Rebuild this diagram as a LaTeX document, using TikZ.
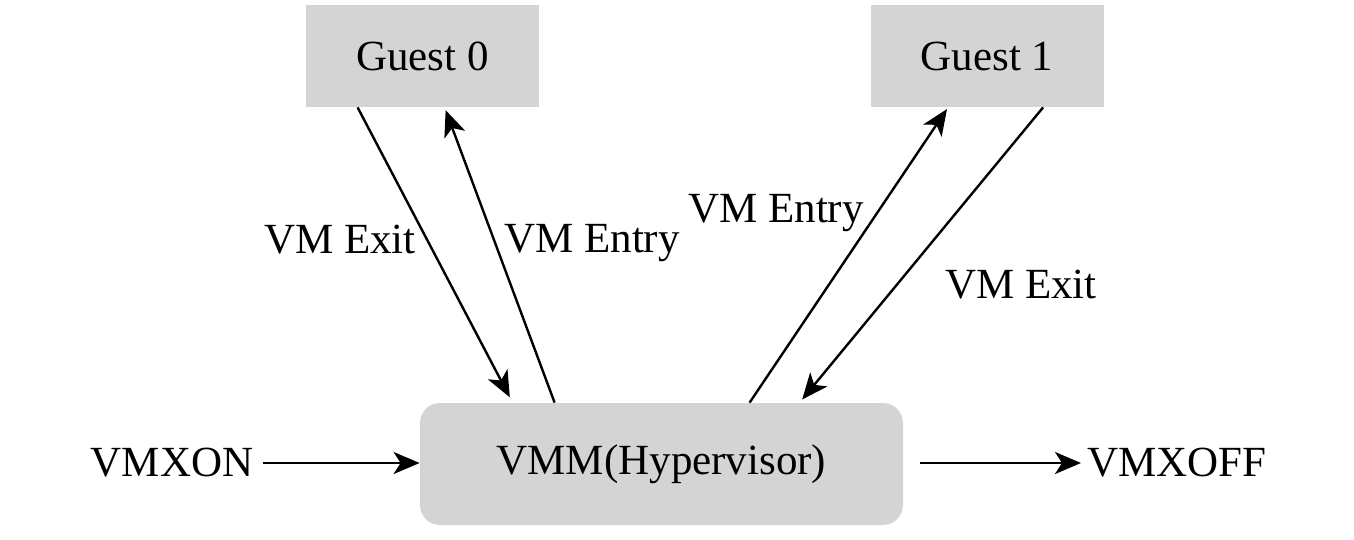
\documentclass[tikz,border=0pt]{standalone}
\usepackage{fontspec}
\setmainfont{Liberation Serif}
\usetikzlibrary{arrows.meta}
\definecolor{boxgray}{RGB}{212,212,212}

\begin{document}
\begin{tikzpicture}[x=0.5pt,y=-0.5pt,
    every node/.style={font=\fontsize{21.5pt}{25pt}\selectfont},
    guestbox/.style={fill=boxgray,minimum width=116.5pt,minimum height=51pt,inner sep=0pt},
    vmmbox/.style={fill=boxgray,rounded corners=10pt,minimum width=241.5pt,minimum height=61pt,inner sep=0pt},
    arr/.style={line width=1.2pt,-{Stealth[length=13pt,width=11pt,inset=3.5pt]}}]
            \useasboundingbox (0,0) rectangle (1354,540);
            \node [guestbox] (g0) at (422.5,56) {Guest 0};
            \node [guestbox] (g1) at (987,56) {Guest 1};
            \node [vmmbox] (vmm) at (661.5,464) {VMM(Hypervisor)};
            \node [inner sep=3pt] (on) at (172,463) {VMXON};
            \node [inner sep=3pt] (off) at (1177,463) {VMXOFF};
            \draw [arr,shorten <=1.5pt] (on.east) -- (on.east -| vmm.west);
            \draw [arr,shorten <=8.5pt] (off.west -| vmm.east) -- (off.west);
            \draw [arr,shorten >=3pt] ([xshift=26pt]g0.south west) -- ([xshift=46.5pt]vmm.north west);
            \draw [arr,shorten >=1.5pt] ([xshift=67.5pt]vmm.north west) -- ([xshift=69.5pt]g0.south west);
            \draw [arr,shorten >=1pt] ([xshift=165pt]vmm.north west) -- ([xshift=39pt]g1.south west);
            \draw [arr,shorten >=2pt] ([xshift=86.5pt]g1.south west) -- ([xshift=190pt]vmm.north west);
            \node (exit0) at (340,240) {VM Exit};
            \node (entry0) at (592,243) {VM Entry};
            \node (entry1) at (776,213) {VM Entry};
            \node (exit1) at (1021,285) {VM Exit};
\end{tikzpicture}
\end{document}
